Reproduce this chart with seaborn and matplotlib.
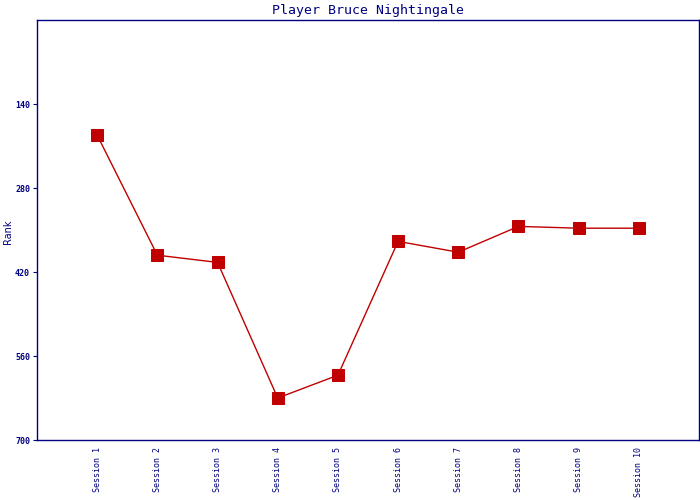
import matplotlib
matplotlib.use("Agg")
import matplotlib.pyplot as plt
import seaborn as sns
import pandas as pd

sessions = ["Session 1", "Session 2", "Session 3", "Session 4", "Session 5",
            "Session 6", "Session 7", "Session 8", "Session 9", "Session 10"]
ranks = [192, 392, 404, 630, 592, 369, 387, 344, 347, 347]
y_ticks = [140, 280, 420, 560, 700]

sns.set_style("white")
plt.rcParams['font.family'] = ['DejaVu Sans Mono', 'DejaVu Sans']

navy = "#000080"
red = "#c00000"

df = pd.DataFrame({"pos": list(range(1, len(sessions) + 1)), "rank": ranks})

fig = plt.figure(figsize=(7, 5), dpi=100)
ax = fig.add_axes([37/700, 60/500, 662/700, 420/500])
sns.lineplot(data=df, x="pos", y="rank", ax=ax, color=red, linewidth=1.0,
             marker="s", markersize=8, markeredgecolor=red, markerfacecolor=red)

ax.set_xlim(0, 11)
ax.set_ylim(700, 0)
ax.set_yticks(y_ticks)
ax.set_yticklabels([str(t) for t in y_ticks], fontsize=6, fontweight="bold", color=navy)
ax.set_xticks(df["pos"])
ax.set_xticklabels(sessions, rotation=90, fontsize=6, color=navy)
ax.tick_params(axis="y", length=3, width=0.8, color=navy, pad=2, left=True)
ax.tick_params(axis="x", length=0, pad=5)
for s in ax.spines.values():
    s.set_color(navy)
    s.set_linewidth(1.0)
ax.set_xlabel("")
ax.set_ylabel("")
fig.text(8/700, 0.5 + 18/500, "Rank", rotation=90, ha="center", va="center",
         fontsize=7, color=navy, family="DejaVu Sans")
ax.set_title("Player Bruce Nightingale", fontsize=9.5, color=navy, pad=4)

fig.savefig("out.png", dpi=100)
